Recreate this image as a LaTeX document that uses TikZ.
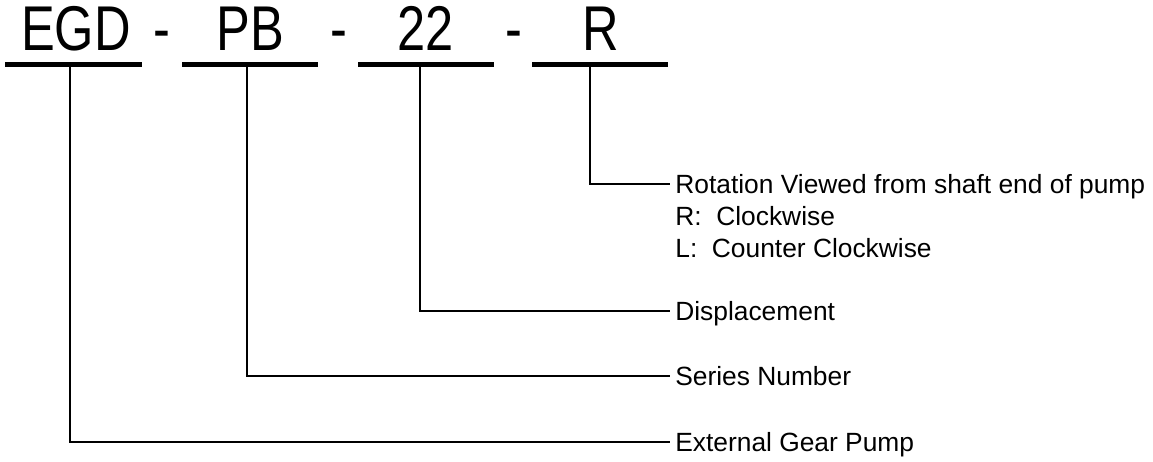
\documentclass[tikz,border=0pt]{standalone}
\usepackage{fontspec}
\setmainfont{Liberation Sans}
\newfontfamily\codefont[FakeStretch=0.8]{Liberation Sans}

\begin{document}
\begin{tikzpicture}[x=0.02cm, y=-0.02cm,
  codetxt/.style={anchor=base, inner sep=0pt, font=\codefont\fontsize{36}{40}\selectfont},
  ubar/.style={fill=black, inner sep=0pt, minimum height=0.11cm},
  lbl/.style={anchor=west, inner xsep=0.1cm, inner ysep=0pt, text height=0.38cm, text depth=0pt, font=\fontsize{15}{18}\selectfont},
  tap/.style={line width=1.1pt}]
\useasboundingbox (0,0) rectangle (1153,461);
% model code
\node[codetxt] (egd) at (76,50) {EGD};
\node[codetxt] (dasha) at (162,50) {-};
\node[codetxt] (pb) at (250,50) {PB};
\node[codetxt] (dashb) at (339,50) {-};
\node[codetxt] (disp) at (426,50) {22};
\node[codetxt] (dashc) at (514,50) {-};
\node[codetxt] (rot) at (601,50) {R};
% underlines
\node[ubar, minimum width=2.74cm] (egdbar) at (73.5,64.5) {};
\node[ubar, minimum width=2.72cm] (pbbar) at (250,64.5) {};
\node[ubar, minimum width=2.72cm] (dispbar) at (426,64.5) {};
\node[ubar, minimum width=2.72cm] (rotbar) at (600,64.5) {};
\coordinate (egdtap) at (70,67);
\coordinate (pbtap) at (247,67);
\coordinate (disptap) at (420,67);
\coordinate (rottap) at (590,67);
% meanings
\node[lbl] (rotlbl) at (670,184) {Rotation Viewed from shaft end of pump};
\node[lbl] (rotr) at (670,216) {R:\ \ Clockwise};
\node[lbl] (rotl) at (670,248) {L:\ \ Counter Clockwise};
\node[lbl] (displbl) at (670,311) {Displacement};
\node[lbl] (pblbl) at (670,376) {Series Number};
\node[lbl] (egdlbl) at (670,442) {External Gear Pump};
\draw[tap] (rottap) |- (rotlbl.west);
\draw[tap] (disptap) |- (displbl.west);
\draw[tap] (pbtap) |- (pblbl.west);
\draw[tap] (egdtap) |- (egdlbl.west);
\end{tikzpicture}
\end{document}
